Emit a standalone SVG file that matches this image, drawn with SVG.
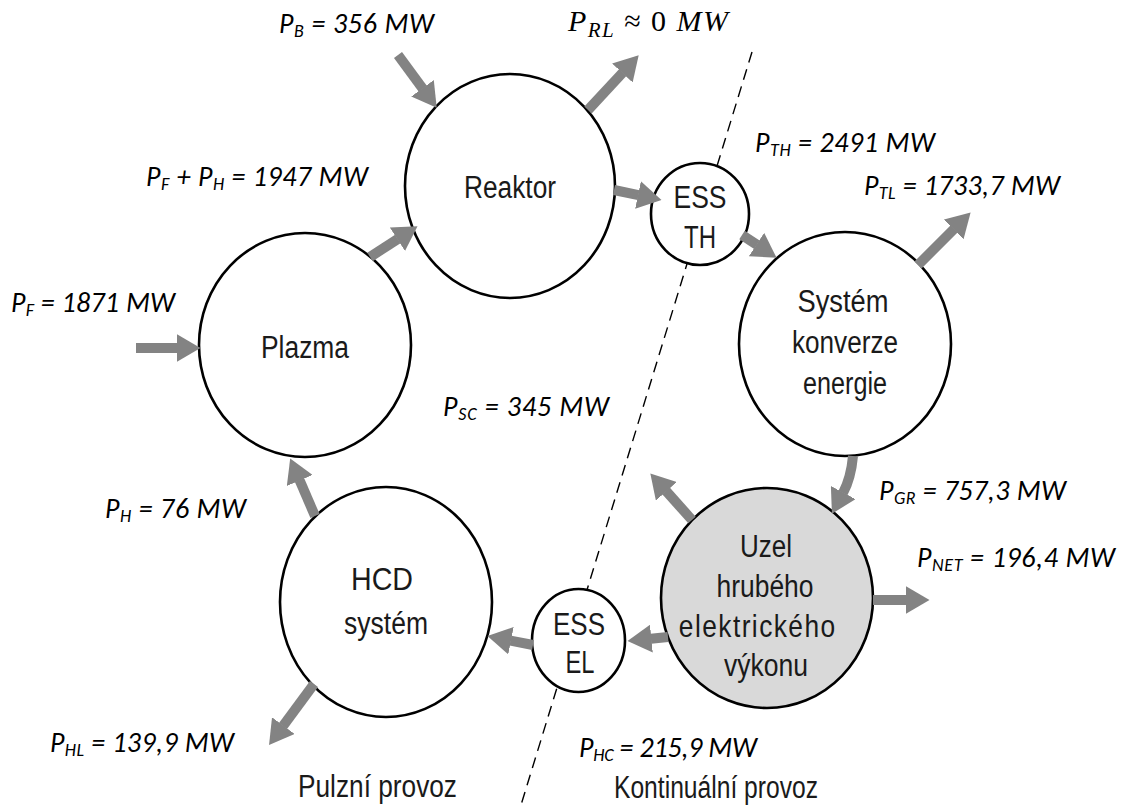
<svg xmlns="http://www.w3.org/2000/svg" width="1125" height="805" viewBox="0 0 1125 805">
<style>
.node{fill:#fff;stroke:#000;stroke-width:2.6}
.grey{fill:#d9d9d9}
.lbl{font-family:"Liberation Sans",Arial,sans-serif;font-size:31px;fill:#1a1a1a;text-anchor:middle}
.val{font-family:Carlito,Lato,"Open Sans",sans-serif;font-style:italic;font-size:28px;fill:#000}
.sub{font-size:18px}
.math{font-family:"Liberation Serif","Times New Roman",serif;font-size:30px;fill:#000}
.arr{stroke:#838383;stroke-width:10;fill:none;marker-end:url(#ah)}
.div{stroke:#000;stroke-width:1.4;stroke-dasharray:11 7;fill:none}
</style>
<defs>
<marker id="ah" viewBox="0 0 24 28" markerWidth="24" markerHeight="28" refX="0.5" refY="14" orient="auto" markerUnits="userSpaceOnUse">
<path d="M0,0 L24,14 L0,28 z" fill="#838383"/>
</marker>
</defs>
<rect width="1125" height="805" fill="#fff"/>
<g id="divider">
<line class="div" x1="752" y1="52" x2="521" y2="805"/>
</g>
<g id="reaktor">
<ellipse class="node" cx="510" cy="186" rx="105" ry="112"/>
<text class="lbl" x="510" y="198" textLength="92" lengthAdjust="spacingAndGlyphs">Reaktor</text>
</g>
<g id="plazma">
<ellipse class="node" cx="305" cy="345" rx="106" ry="112"/>
<text class="lbl" x="305" y="358" textLength="88" lengthAdjust="spacingAndGlyphs">Plazma</text>
</g>
<g id="ess-th">
<ellipse class="node" cx="700" cy="214" rx="49" ry="51"/>
<text class="lbl" x="700" y="208" textLength="53" lengthAdjust="spacingAndGlyphs">ESS</text>
<text class="lbl" x="700" y="248" textLength="32" lengthAdjust="spacingAndGlyphs">TH</text>
</g>
<g id="system-konverze">
<ellipse class="node" cx="845" cy="344" rx="106" ry="112"/>
<text class="lbl" x="843" y="312" textLength="91" lengthAdjust="spacingAndGlyphs">Systém</text>
<text class="lbl" x="845" y="353" textLength="106" lengthAdjust="spacingAndGlyphs">konverze</text>
<text class="lbl" x="845" y="394" textLength="84" lengthAdjust="spacingAndGlyphs">energie</text>
</g>
<g id="uzel">
<ellipse class="node grey" cx="767" cy="598" rx="106" ry="110"/>
<text class="lbl" x="766" y="557" textLength="52" lengthAdjust="spacingAndGlyphs">Uzel</text>
<text class="lbl" x="765" y="597" textLength="97" lengthAdjust="spacingAndGlyphs">hrubého</text>
<text class="lbl" transform="translate(757,637) scale(0.85,1)" x="0" y="0" textLength="184" lengthAdjust="spacing">elektrického</text>
<text class="lbl" x="766" y="676" textLength="84" lengthAdjust="spacingAndGlyphs">výkonu</text>
</g>
<g id="ess-el">
<ellipse class="node" cx="578.5" cy="640.5" rx="46.5" ry="51.5"/>
<text class="lbl" x="579" y="635" textLength="52" lengthAdjust="spacingAndGlyphs">ESS</text>
<text class="lbl" x="580" y="673" textLength="29" lengthAdjust="spacingAndGlyphs">EL</text>
</g>
<g id="hcd">
<ellipse class="node" cx="386" cy="602" rx="106" ry="115"/>
<text class="lbl" x="382" y="590" textLength="62" lengthAdjust="spacingAndGlyphs">HCD</text>
<text class="lbl" x="386" y="634" textLength="84" lengthAdjust="spacingAndGlyphs">systém</text>
</g>
<g id="connectors">
<line class="arr" x1="398" y1="55" x2="422.8" y2="88.7"/>
<line class="arr" x1="588" y1="110" x2="622.7" y2="72.6"/>
<line class="arr" x1="614" y1="190" x2="638.5" y2="195.1"/>
<line class="arr" x1="742" y1="235" x2="756.9" y2="244.8"/>
<line class="arr" x1="918" y1="265" x2="954" y2="229"/>
<path class="arr" d="M853,456 Q851,478 843,493"/>
<line class="arr" x1="692" y1="520" x2="666" y2="490.9"/>
<line class="arr" x1="873" y1="600" x2="906" y2="600"/>
<line class="arr" x1="668" y1="637" x2="650.9" y2="638.7"/>
<line class="arr" x1="533" y1="645" x2="510.5" y2="640.6"/>
<line class="arr" x1="314" y1="684" x2="283" y2="726"/>
<line class="arr" x1="315" y1="516" x2="299.5" y2="480"/>
<line class="arr" x1="370" y1="257" x2="397.8" y2="239"/>
<line class="arr" x1="136" y1="348" x2="177" y2="348"/>
</g>
<g id="labels">
<text class="val" x="279" y="33" textLength="155">P<tspan class="sub" dy="4">B</tspan><tspan dy="-4"> = 356 MW</tspan></text>
<text class="math" x="568" y="31" textLength="160"><tspan font-style="italic">P</tspan><tspan font-style="italic" font-size="21" dy="6">RL</tspan><tspan dy="-6"> ≈  0 </tspan><tspan font-style="italic">MW</tspan></text>
<text class="val" x="146" y="186" textLength="222">P<tspan class="sub" dy="4">F</tspan><tspan dy="-4"> + P</tspan><tspan class="sub" dy="4">H</tspan><tspan dy="-4"> = 1947 MW</tspan></text>
<text class="val" x="755" y="152" textLength="180">P<tspan class="sub" dy="4">TH</tspan><tspan dy="-4"> = 2491 MW</tspan></text>
<text class="val" x="864" y="195" textLength="196">P<tspan class="sub" dy="4">TL</tspan><tspan dy="-4"> = 1733,7 MW</tspan></text>
<text class="val" x="11" y="312" textLength="164">P<tspan class="sub" dy="4">F</tspan><tspan dy="-4"> = 1871 MW</tspan></text>
<text class="val" x="443" y="416" textLength="166">P<tspan class="sub" dy="4">SC</tspan><tspan dy="-4"> = 345 MW</tspan></text>
<text class="val" x="879" y="500" textLength="187">P<tspan class="sub" dy="4">GR</tspan><tspan dy="-4"> = 757,3 MW</tspan></text>
<text class="val" x="917" y="567" textLength="198">P<tspan class="sub" dy="4">NET</tspan><tspan dy="-4"> = 196,4 MW</tspan></text>
<text class="val" x="105" y="518" textLength="141">P<tspan class="sub" dy="4">H</tspan><tspan dy="-4"> = 76 MW</tspan></text>
<text class="val" x="50" y="752" textLength="184">P<tspan class="sub" dy="4">HL</tspan><tspan dy="-4"> = 139,9 MW</tspan></text>
<text class="val" x="579" y="757" textLength="178">P<tspan class="sub" dy="4">HC</tspan><tspan dy="-4"> = 215,9 MW</tspan></text>
<text class="lbl" x="377.5" y="797" textLength="159" lengthAdjust="spacingAndGlyphs">Pulzní provoz</text>
<text class="lbl" x="716" y="798" textLength="204" lengthAdjust="spacingAndGlyphs">Kontinuální provoz</text>
</g>
</svg>
